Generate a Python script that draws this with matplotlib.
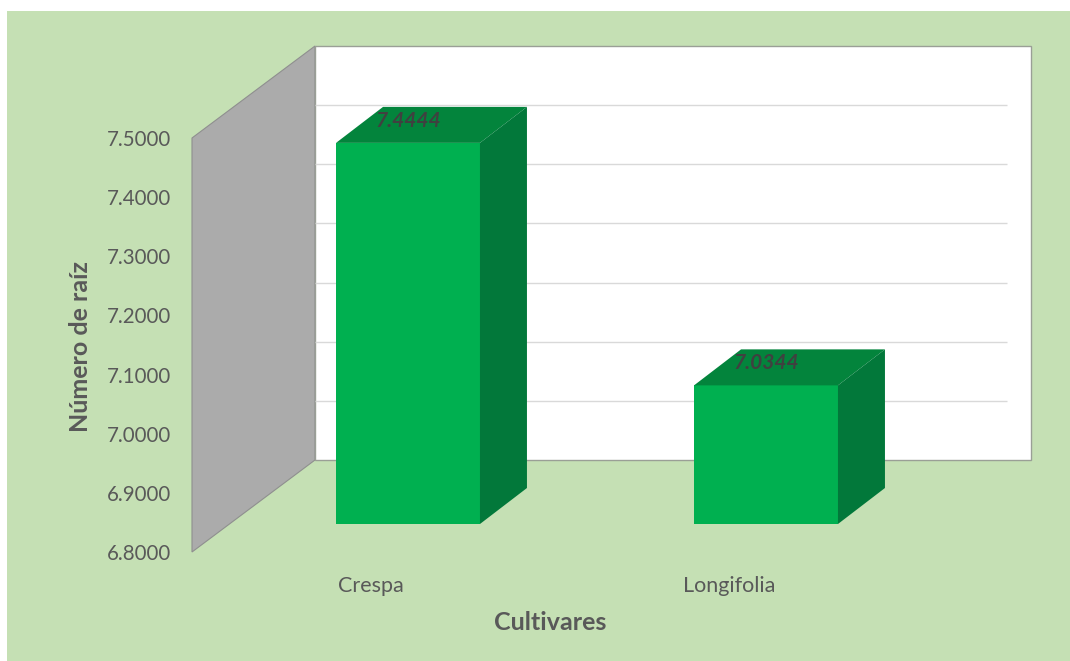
import matplotlib

matplotlib.use("Agg")
import matplotlib.pyplot as plt
from matplotlib.patches import Polygon, Rectangle
from matplotlib.transforms import Affine2D

plt.rcParams["font.family"] = ["Lato", "DejaVu Sans"]

categories = ["Crespa", "Longifolia"]
values = [7.4444, 7.0344]
value_labels = ["7.4444", "7.0344"]
y_ticks = [6.8, 6.9, 7.0, 7.1, 7.2, 7.3, 7.4, 7.5]
y_tick_labels = ["6.8000", "6.9000", "7.0000", "7.1000", "7.2000", "7.3000", "7.4000", "7.5000"]

W, H = 1070, 661
BASE = 6.8
BAR_WIDTH = 0.402

PANEL = "#c5e0b4"
WALL = "#ababab"
TEXT = "#595959"
FRONT = "#00b050"
TOP = "#03843c"
SIDE = "#02783a"

fig = plt.figure(figsize=(W / 100, H / 100), dpi=100, facecolor="white")
fig.add_artist(
    Rectangle(
        (7 / W, 0),
        (W - 7) / W,
        (H - 11) / H,
        transform=fig.transFigure,
        color=PANEL,
        lw=0,
        zorder=-1,
    )
)

# front plane of the 3d box: 6.8 sits at y=552px, 7.5 at y=138px
ax = fig.add_axes([192 / W, 1 - 552 / H, 716 / W, 414 / H])
ax.patch.set_visible(False)
ax.set_xlim(-0.5, 1.5)
ax.set_ylim(BASE, 7.5)
for spine in ax.spines.values():
    spine.set_visible(False)

# pixel shift of each depth plane relative to the front plane
WALL_DEPTH = (123, 92)
BAR_NEAR = (37, 28)
BAR_FAR = (84, 64)


def depth(shift):
    return ax.transData + Affine2D().translate(*shift)


def face(points, **kwargs):
    # points are (x, y, shift): data position on a given depth plane
    xy = [depth(shift).transform((x, y)) for x, y, shift in points]
    ax.add_patch(Polygon(xy, transform=None, clip_on=False, **kwargs))


none = (0, 0)
face(
    [(-0.5, BASE, none), (-0.5, 7.5, none), (-0.5, 7.5, WALL_DEPTH), (-0.5, BASE, WALL_DEPTH)],
    facecolor=WALL,
    edgecolor="#8f8f8f",
    lw=0.8,
    zorder=1,
)
face(
    [
        (-0.5, BASE, WALL_DEPTH),
        (1.5, BASE, WALL_DEPTH),
        (1.5, 7.5, WALL_DEPTH),
        (-0.5, 7.5, WALL_DEPTH),
    ],
    facecolor="white",
    edgecolor="#9a9f96",
    lw=1,
    zorder=1,
)
ax.hlines(
    y_ticks[1:-1], -0.5, 1.433, transform=depth(WALL_DEPTH), color="#d9d9d9", lw=1, clip_on=False, zorder=2
)

for i, v in enumerate(values):
    x0, x1 = i - BAR_WIDTH / 2, i + BAR_WIDTH / 2
    ax.bar(
        i,
        v - BASE,
        bottom=BASE,
        width=BAR_WIDTH,
        transform=depth(BAR_NEAR),
        color=FRONT,
        clip_on=False,
        zorder=3,
    )
    face(
        [(x0, v, BAR_NEAR), (x1, v, BAR_NEAR), (x1, v, BAR_FAR), (x0, v, BAR_FAR)],
        facecolor=TOP,
        edgecolor="none",
        zorder=3,
    )
    face(
        [(x1, BASE, BAR_NEAR), (x1, v, BAR_NEAR), (x1, v, BAR_FAR), (x1, BASE, BAR_FAR)],
        facecolor=SIDE,
        edgecolor="none",
        zorder=3,
    )
    ax.annotate(
        value_labels[i],
        xy=(i, v),
        xytext=(37, 50),
        textcoords="offset pixels",
        ha="center",
        va="center",
        fontsize=15,
        fontweight="bold",
        fontstyle="italic",
        color="#404040",
        zorder=4,
    )

ax.set_xlim(-0.5, 1.5)
ax.set_ylim(BASE, 7.5)
ax.set_xticks(range(len(categories)), categories)
ax.set_yticks(y_ticks, y_tick_labels)
ax.tick_params(axis="both", length=0, labelcolor=TEXT)
ax.tick_params(axis="y", pad=15, labelsize=14.8)
ax.tick_params(axis="x", pad=17, labelsize=15.5)

fig.text(550 / W, 1 - 622 / H, "Cultivares", ha="center", va="center", fontsize=18, fontweight="bold", color=TEXT)
fig.text(
    81 / W,
    1 - 347 / H,
    "Número de raíz",
    ha="center",
    va="center",
    rotation=90,
    fontsize=18,
    fontweight="bold",
    color=TEXT,
)

plt.savefig("out.png", dpi=100)
